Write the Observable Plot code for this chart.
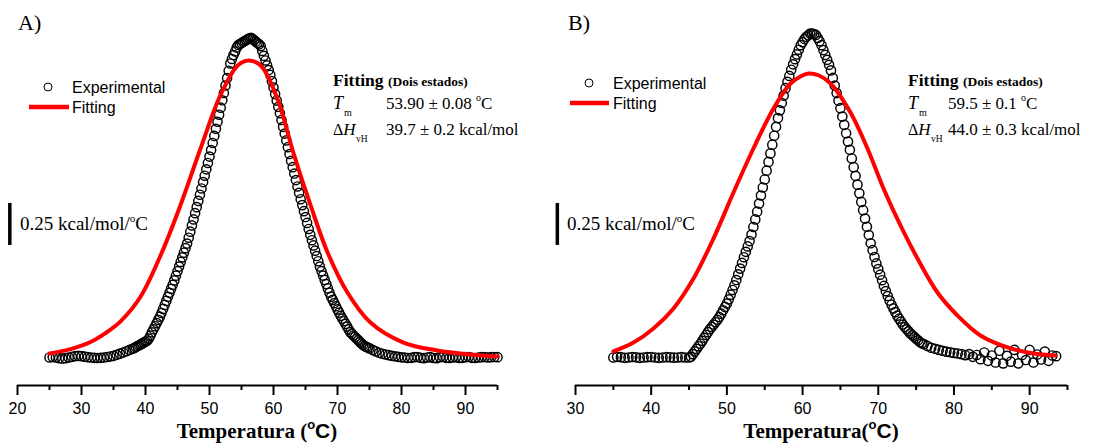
<!DOCTYPE html>
<html><head><meta charset="utf-8">
<script src="https://cdn.jsdelivr.net/npm/d3@7"></script>
<script src="https://cdn.jsdelivr.net/npm/@observablehq/plot@0.6"></script>
<style>
body{margin:0;background:#fff;}
#wrap{position:relative;width:1111px;height:447px;overflow:hidden;background:#fff;}
#wrap svg{position:absolute;top:0;}
</style></head><body><div id="wrap"></div>
<script>
// ---------- data ----------
const ticksMajorA = [20,30,40,50,60,70,80,90];
const ticksMinorA = [25,35,45,55,65,75,85,95];
const ticksMajorB = [30,40,50,60,70,80,90];
const ticksMinorB = [35,45,55,65,75,85,95];

// Experimental excess Cp (kcal/mol/°C, relative to baseline) vs temperature (°C)
const expA = [
[25,0.000],[25.5,0.003],[26,0.000],[26.5,-0.004],[27,-0.006],[27.5,-0.004],[28,0.000],[28.5,0.004],[29,0.008],[29.5,0.010],
[30,0.008],[30.5,0.005],[31,0.002],[31.5,0.000],[32,-0.002],[32.5,-0.003],[33,-0.002],[33.5,0.000],[34,0.003],[34.5,0.006],
[35,0.010],[35.5,0.016],[36,0.023],[36.5,0.030],[37,0.037],[37.5,0.045],[38,0.052],
[38.25,0.057],[38.5,0.062],[38.75,0.068],[39,0.073],[39.25,0.078],[39.5,0.084],[39.75,0.089],[40,0.095],
[40.25,0.100],[40.5,0.112],[40.75,0.130],[41,0.150],[41.25,0.168],[41.5,0.186],[41.75,0.205],[42,0.224],
[42.25,0.243],[42.5,0.265],[42.75,0.289],[43,0.313],[43.25,0.337],[43.5,0.361],[43.75,0.385],[44,0.409],
[44.25,0.433],[44.5,0.459],[44.75,0.487],[45,0.514],[45.25,0.541],[45.5,0.569],[45.75,0.596],[46,0.624],
[46.25,0.651],[46.5,0.678],[46.75,0.713],[47,0.749],[47.25,0.786],[47.5,0.822],[47.75,0.859],[48,0.895],
[48.25,0.932],[48.5,0.969],[48.75,1.006],[49,1.044],[49.25,1.082],[49.5,1.120],[49.75,1.158],[50,1.196],
[50.25,1.235],[50.5,1.277],[50.75,1.319],[51,1.361],[51.25,1.403],[51.5,1.445],[51.75,1.487],[52,1.531],
[52.25,1.575],[52.5,1.619],[52.75,1.663],[53,1.707],[53.25,1.750],[53.5,1.777],[53.75,1.800],[54,1.822],
[54.25,1.845],[54.5,1.860],[54.75,1.866],[55,1.872],[55.25,1.878],[55.5,1.884],[55.75,1.890],[56,1.895],
[56.25,1.900],[56.5,1.903],[56.75,1.895],[57,1.888],[57.25,1.880],[57.5,1.872],[57.75,1.864],[58,1.854],
[58.25,1.825],[58.5,1.796],[58.75,1.768],[59,1.739],[59.25,1.711],[59.5,1.682],[59.75,1.645],[60,1.607],
[60.25,1.568],[60.5,1.530],[60.75,1.492],[61,1.454],[61.25,1.414],[61.5,1.373],[61.75,1.333],[62,1.292],
[62.25,1.252],[62.5,1.211],[62.75,1.171],[63,1.133],[63.25,1.095],[63.5,1.056],[63.75,1.018],[64,0.980],
[64.25,0.942],[64.5,0.907],[64.75,0.871],[65,0.836],[65.25,0.801],[65.5,0.765],[65.75,0.730],[66,0.698],
[66.25,0.667],[66.5,0.636],[66.75,0.604],[67,0.573],[67.25,0.541],[67.5,0.514],[67.75,0.488],[68,0.462],
[68.25,0.437],[68.5,0.411],[68.75,0.386],[69,0.362],[69.25,0.343],[69.5,0.324],[69.75,0.305],[70,0.286],
[70.25,0.267],[70.5,0.248],[70.75,0.232],[71,0.216],[71.25,0.200],[71.5,0.184],[71.75,0.167],[72,0.151],
[72.25,0.141],[72.5,0.131],[72.75,0.122],[73,0.112],[73.25,0.103],[73.5,0.093],[73.75,0.083],[74,0.074],
[74.25,0.068],[74.5,0.063],[74.75,0.059],[75,0.054],[75.5,0.045],[76,0.036],[76.5,0.028],[77,0.022],[77.5,0.018],
[78,0.014],[78.5,0.010],[79,0.007],[79.5,0.004],[80,0.001],[80.5,0.000],[81,-0.003],[81.5,-0.002],[82,0.002],[82.5,0.003],
[83,-0.002],[83.5,-0.004],[84,0.000],[84.5,0.002],[85,-0.003],[85.5,-0.004],[86,0.002],[86.5,0.003],[87,-0.002],[87.5,-0.003],
[88,0.000],[88.5,0.002],[89,-0.003],[89.5,-0.002],[90,0.002],[90.5,0.003],[91,-0.002],[91.5,-0.003],[92,0.000],[92.5,0.002],
[93,0.003],[93.5,0.000],[94,0.002],[94.5,0.003],[95,0.002]
];
const fitA = [
[25,0.024],[28.3,0.050],[31.4,0.092],[33.75,0.145],[36.1,0.215],[39.2,0.360],[42.35,0.607],[45.45,0.905],[48.6,1.244],
[51.7,1.560],[54.4,1.738],[56.1,1.768],[58,1.738],[60.6,1.542],[63.1,1.220],[65.8,0.905],[68.45,0.625],[71.55,0.387],
[75.15,0.208],[80.3,0.089],[85.6,0.042],[90.8,0.018],[95,0.006]
];
const expB = [
[35,0.000],[35.5,0.004],[36,0.002],[36.5,-0.002],[37,0.000],[37.5,0.003],[38,0.001],[38.5,-0.002],[39,0.000],[39.5,0.002],
[40,0.003],[40.5,0.000],[41,-0.002],[41.5,0.000],[42,0.002],[42.5,0.001],[43,-0.001],[43.5,0.000],[44,0.002],[44.5,0.000],[45,0.000],
[45.25,0.004],[45.5,0.020],[45.75,0.036],[46,0.051],[46.25,0.067],[46.5,0.082],[46.75,0.099],[47,0.117],[47.25,0.134],
[47.5,0.151],[47.75,0.168],[48,0.182],[48.25,0.196],[48.5,0.210],[48.75,0.224],[49,0.241],[49.25,0.261],[49.5,0.281],
[49.75,0.301],[50,0.321],[50.25,0.346],[50.5,0.374],[50.75,0.402],[51,0.430],[51.25,0.461],[51.5,0.495],[51.75,0.529],
[52,0.563],[52.25,0.597],[52.5,0.629],[52.75,0.661],[53,0.693],[53.25,0.732],[53.5,0.777],[53.75,0.822],[54,0.868],
[54.25,0.916],[54.5,0.964],[54.75,1.012],[55,1.060],[55.25,1.112],[55.5,1.164],[55.75,1.215],[56,1.267],[56.25,1.320],
[56.5,1.373],[56.75,1.425],[57,1.471],[57.25,1.515],[57.5,1.559],[57.75,1.603],[58,1.641],[58.25,1.676],[58.5,1.713],
[58.75,1.745],[59,1.776],[59.25,1.804],[59.5,1.832],[59.75,1.859],[60,1.877],[60.25,1.896],[60.5,1.909],[60.75,1.918],
[61,1.928],[61.25,1.928],[61.5,1.925],[61.75,1.920],[62,1.902],[62.25,1.883],[62.5,1.859],[62.75,1.830],[63,1.801],
[63.25,1.772],[63.5,1.742],[63.75,1.709],[64,1.664],[64.25,1.619],[64.5,1.574],[64.75,1.529],[65,1.484],[65.25,1.434],
[65.5,1.385],[65.75,1.335],[66,1.285],[66.25,1.236],[66.5,1.185],[66.75,1.133],[67,1.081],[67.25,1.029],[67.5,0.977],
[67.75,0.926],[68,0.877],[68.25,0.827],[68.5,0.778],[68.75,0.729],[69,0.680],[69.25,0.639],[69.5,0.598],[69.75,0.560],
[70,0.526],[70.25,0.493],[70.5,0.460],[70.75,0.426],[71,0.395],[71.25,0.366],[71.5,0.339],[71.75,0.314],[72,0.292],
[72.25,0.270],[72.5,0.249],[72.75,0.231],[73,0.214],[73.25,0.196],[73.5,0.181],[73.75,0.168],[74,0.156],[74.25,0.143],
[74.5,0.133],[74.75,0.123],[75,0.112],[75.25,0.102],[75.5,0.092],[75.75,0.085],[76,0.080],[76.5,0.069],[77,0.058],
[77.5,0.052],[78,0.045],[78.5,0.040],[79,0.035],[79.5,0.031],[80,0.027],[80.5,0.024],[81,0.020],[81.5,0.014],[82,0.020],
[82.5,0.004],[83,0.015],[83.5,-0.010],[84,0.030],[84.5,-0.020],[85,0.012],[85.5,-0.030],[86,0.040],[86.5,-0.035],[87,0.010],
[87.5,-0.025],[88,0.045],[88.5,-0.035],[89,0.015],[89.5,-0.015],[90,0.045],[90.5,-0.030],[91,0.018],[91.5,-0.012],[92,0.035],
[92.5,-0.020],[93,0.012],[93.5,0.008]
];
const fitB = [
[35,0.036],[37.66,0.089],[40.3,0.173],[42.95,0.292],[45.59,0.470],[48.23,0.708],[50.87,0.982],[53.51,1.244],[56.16,1.482],
[58.4,1.631],[59.72,1.673],[60.78,1.690],[62.1,1.680],[63.69,1.631],[66.33,1.458],[68.57,1.244],[70.69,1.006],[72.93,0.786],
[75.18,0.589],[77.82,0.387],[80.46,0.250],[83.5,0.131],[87.07,0.060],[90.5,0.024],[93.41,0.012]
];
// scale bar: 0.25 kcal/mol/°C
const scaleBarA = {T: 18.8, v0: 0.667, v1: 0.917};
const scaleBarB = {T: 27.6, v0: 0.667, v1: 0.917};
const paramsA = {Tm: "53.90 ± 0.08 ", dH: "39.7 ± 0.2 kcal/mol"};
const paramsB = {Tm: "59.5 ± 0.1 ", dH: "44.0 ± 0.3 kcal/mol"};

// ---------- drawing ----------
const SERIF = "Liberation Serif, Times New Roman, serif";
const SANS = "Liberation Sans, Arial, sans-serif";
const yDomain = [-0.1667, 2.0];
const wrap = document.getElementById("wrap");

function txt(g, x, y, parts, base){
  const t = g.append("text").attr("x", x).attr("y", y)
    .attr("font-family", base.family).attr("font-size", base.size)
    .attr("font-weight", base.weight || "normal").attr("fill", "black")
    .attr("text-anchor", base.anchor || "start");
  for (const p of parts){
    const s = t.append("tspan").text(p.t);
    if (p.size) s.attr("font-size", p.size);
    if (p.family) s.attr("font-family", p.family);
    if (p.style) s.attr("font-style", p.style);
    if (p.weight) s.attr("font-weight", p.weight);
    if (p.dy !== undefined) s.attr("dy", p.dy);
    if (p.dx !== undefined) s.attr("dx", p.dx);
  }
  return t;
}

function panel(cfg){
  const exp = cfg.exp.map(([T,v]) => ({T, v}));
  const fit = cfg.fit.map(([T,v]) => ({T, v}));
  const svg = Plot.plot({
    width: cfg.width, height: 447,
    marginLeft: cfg.ml, marginRight: cfg.mr, marginTop: 21, marginBottom: 62,
    x: {domain: cfg.xDomain},
    y: {domain: yDomain, axis: null},
    style: {background: "transparent", overflow: "visible", fontFamily: SANS, color: "black"},
    marks: [
      Plot.ruleY([yDomain[0]], {stroke: "black", strokeWidth: 2}),
      Plot.axisX(cfg.major, {tickSize: 10, tickPadding: 7, strokeWidth: 2, fontSize: 16, label: null, fill: "black"}),
      Plot.axisX(cfg.minor, {tickSize: 5, strokeWidth: 2, tickFormat: () => "", label: null}),
      Plot.dot(exp, {x: "T", y: "v", r: 4.6, stroke: "black", fill: "none", strokeWidth: 1.45}),
      Plot.line(fit, {x: "T", y: "v", stroke: "#ff0000", strokeWidth: 4, curve: "catmull-rom"}),
      Plot.ruleX([cfg.bar], {x: "T", y1: "v0", y2: "v1", stroke: "black", strokeWidth: 3.5})
    ]
  });
  svg.style.left = cfg.left + "px";
  wrap.appendChild(svg);
  const g = d3.select(svg).append("g");
  const o = cfg.left;
  const a = cfg.ann;
  // panel label
  txt(g, a.labX - o, 30, [{t: cfg.label}], {family: SERIF, size: 22});
  // legend
  g.append("circle").attr("cx", a.legCx - o).attr("cy", a.legY).attr("r", 4)
    .attr("fill", "white").attr("stroke", "black").attr("stroke-width", 1);
  txt(g, a.legTx - o, a.legY + 6, [{t: "Experimental"}], {family: SANS, size: 16});
  g.append("line").attr("x1", a.legL1 - o).attr("x2", a.legL2 - o)
    .attr("y1", a.legY + 20).attr("y2", a.legY + 20).attr("stroke", "#ff0000").attr("stroke-width", 4.5);
  txt(g, a.legTx - o, a.legY + 26, [{t: "Fitting"}], {family: SANS, size: 16});
  // fitting parameters
  txt(g, a.fx - o, 86, [{t: "Fitting "}, {t: "(Dois estados)", size: 13.5}], {family: SERIF, size: 17.5, weight: "bold"});
  txt(g, a.fx - o, 109, [{t: "T", style: "italic"}, {t: "m", size: 10, dy: 7, dx: 1}], {family: SERIF, size: 18});
  txt(g, a.vx - o, 109, [{t: cfg.params.Tm}, {t: "o", size: 10, dy: -8}, {t: "C", dy: 8}], {family: SERIF, size: 17});
  txt(g, a.fx - o, 135, [{t: "Δ", size: 16}, {t: "H", style: "italic"}, {t: "vH", size: 9.5, dy: 7, dx: 0.5}], {family: SERIF, size: 17});
  txt(g, a.vx - o, 135, [{t: cfg.params.dH}], {family: SERIF, size: 17});
  // scale bar label
  txt(g, a.sbx - o, 230, [{t: "0.25 kcal/mol/"}, {t: "o", size: 11, dy: -8}, {t: "C", dy: 8}], {family: SERIF, size: 19});
  // axis title
  txt(g, a.titX - o, 438, [{t: cfg.titleMain}, {t: "o", size: 13, dy: -9, family: SANS}, {t: "C", dy: 9, family: SANS}, {t: ")"}],
      {family: SERIF, size: 21, weight: "bold", anchor: "middle"});
}

panel({
  left: 0, width: 555, ml: 17, mr: 58, xDomain: [20, 95],
  major: ticksMajorA, minor: ticksMinorA, exp: expA, fit: fitA, bar: scaleBarA,
  label: "A)", params: paramsA, titleMain: "Temperatura (",
  ann: {labX: 18, legCx: 48, legY: 87, legTx: 72, legL1: 29, legL2: 69, fx: 333, vx: 386, sbx: 20, titX: 257}
});
panel({
  left: 555, width: 556, ml: 20, mr: 44, xDomain: [30, 95],
  major: ticksMajorB, minor: ticksMinorB, exp: expB, fit: fitB, bar: scaleBarB,
  label: "B)", params: paramsB, titleMain: "Temperatura(",
  ann: {labX: 568, legCx: 589, legY: 83, legTx: 613, legL1: 570, legL2: 609, fx: 908, vx: 948, sbx: 567, titX: 821}
});
</script></body></html>
